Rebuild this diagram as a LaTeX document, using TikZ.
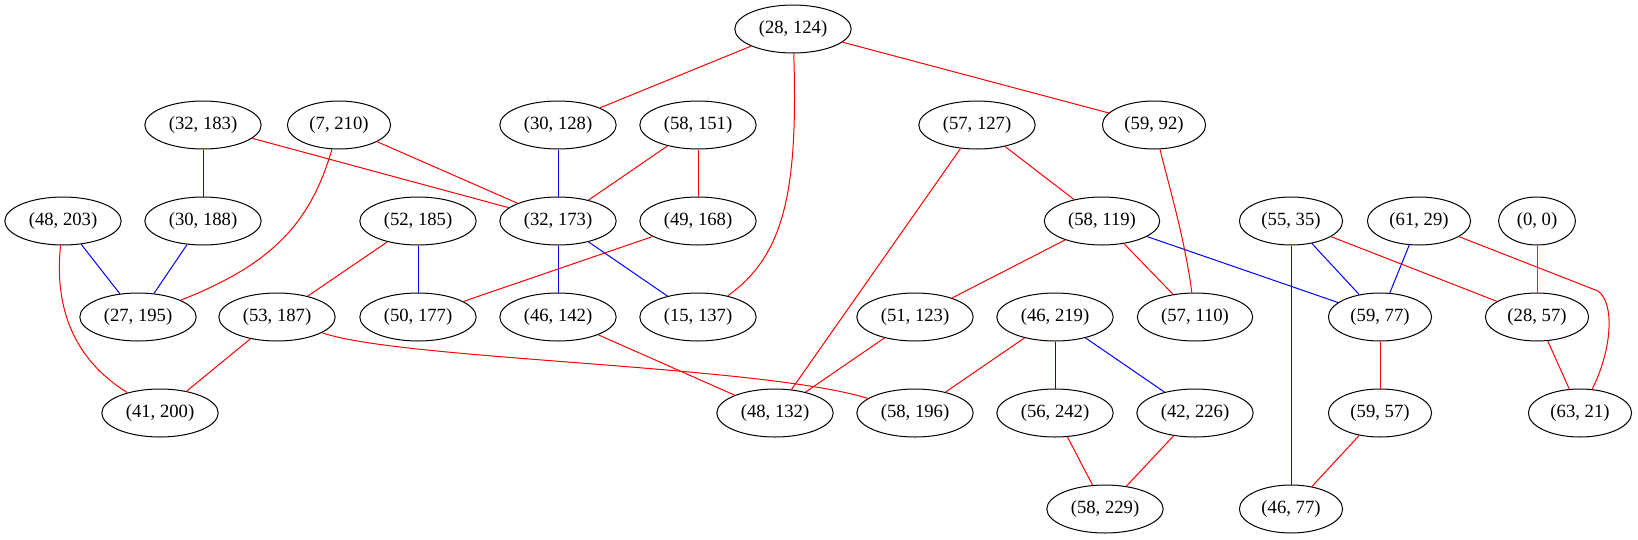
\documentclass[tikz,border=0pt]{standalone}
\usepackage{fontspec}
\setmainfont{Liberation Serif}
\usepackage{tikz}
\usetikzlibrary{shapes.geometric}

\begin{document}
\begin{tikzpicture}[x=0.75pt,y=-0.75pt,line width=0.75pt,
main node/.style={ellipse,draw,minimum height=36pt,inner xsep=5.2pt,inner ysep=0pt,font=\fontsize{14}{16}\selectfont},
red edge/.style={draw=red},blue edge/.style={draw=blue},purple edge/.style={draw={rgb,255:red,160;green,32;blue,240}}]
\useasboundingbox (0, 0) rectangle (1638, 539);
% row 1
\node[main node] (1) at (793, 29) {(28, 124)};
% row 2
\node[main node] (2) at (203, 125) {(32, 183)};
\node[main node] (3) at (339, 125) {(7, 210)};
\node[main node] (4) at (558, 125) {(30, 128)};
\node[main node] (5) at (698, 125) {(58, 151)};
\node[main node] (6) at (977, 125) {(57, 127)};
\node[main node] (7) at (1154, 125) {(59, 92)};
% row 3
\node[main node] (8) at (63, 221) {(48, 203)};
\node[main node] (9) at (203, 221) {(30, 188)};
\node[main node] (10) at (418, 221) {(52, 185)};
\node[main node] (11) at (558, 221) {(32, 173)};
\node[main node] (12) at (698, 221) {(49, 168)};
\node[main node] (13) at (1102, 221) {(58, 119)};
\node[main node] (14) at (1291, 221) {(55, 35)};
\node[main node] (15) at (1419, 221) {(61, 29)};
\node[main node] (16) at (1537, 221) {(0, 0)};
% row 4
\node[main node] (17) at (138, 317) {(27, 195)};
\node[main node] (18) at (277, 317) {(53, 187)};
\node[main node] (19) at (418, 317) {(50, 177)};
\node[main node] (20) at (558, 317) {(46, 142)};
\node[main node] (21) at (698, 317) {(15, 137)};
\node[main node] (22) at (915, 317) {(51, 123)};
\node[main node] (23) at (1055, 317) {(46, 219)};
\node[main node] (24) at (1195, 317) {(57, 110)};
\node[main node] (25) at (1380, 317) {(59, 77)};
\node[main node] (26) at (1537, 317) {(28, 57)};
% row 5
\node[main node] (27) at (160, 413) {(41, 200)};
\node[main node] (28) at (775, 413) {(48, 132)};
\node[main node] (29) at (915, 413) {(58, 196)};
\node[main node] (30) at (1055, 413) {(56, 242)};
\node[main node] (31) at (1195, 413) {(42, 226)};
\node[main node] (32) at (1380, 413) {(59, 57)};
\node[main node] (33) at (1580, 413) {(63, 21)};
% row 6
\node[main node] (34) at (1105, 509) {(58, 229)};
\node[main node] (35) at (1291, 509) {(46, 77)};
% edges
\draw[red edge] (1) -- (4);
\draw[red edge] (1) -- (7);
\draw[red edge] (1) .. controls (798, 190) and (785, 255) .. (21);
\draw[blue edge] (2) -- (9);
\draw[red edge] (2) -- (11);
\draw[red edge] (3) -- (11);
\draw[red edge] (3) .. controls (310, 225) and (270, 265) .. (17);
\draw[blue edge] (4) -- (11);
\draw[red edge] (5) -- (11);
\draw[red edge] (5) -- (12);
\draw[red edge] (6) -- (13);
\draw[red edge] (6) -- (28);
\draw[red edge] (7) .. controls (1170, 190) and (1185, 240) .. (24);
\draw[blue edge] (8) -- (17);
\draw[red edge] (8) .. controls (54, 310) and (75, 360) .. (27);
\draw[blue edge] (9) -- (17);
\draw[red edge] (10) -- (18);
\draw[blue edge] (10) -- (19);
\draw[blue edge] (11) -- (20);
\draw[blue edge] (11) -- (21);
\draw[red edge] (12) -- (19);
\draw[red edge] (13) -- (22);
\draw[red edge] (13) -- (24);
\draw[blue edge] (13) -- (25);
\draw[blue edge] (14) -- (25);
\draw[red edge] (14) -- (26);
\draw[blue edge] (14) -- (35);
\draw[blue edge] (15) -- (25);
\draw[red edge] (15) -- (1598, 291) .. controls (1615, 303) and (1612, 350) .. (33);
\draw[purple edge] (16) -- (26);
\draw[red edge] (18) -- (27);
\draw[red edge] (18) .. controls (400, 360) and (760, 365) .. (29);
\draw[red edge] (20) -- (28);
\draw[red edge] (22) -- (28);
\draw[red edge] (23) -- (29);
\draw[blue edge] (23) -- (30);
\draw[blue edge] (23) -- (31);
\draw[red edge] (25) -- (32);
\draw[red edge] (26) -- (33);
\draw[red edge] (30) -- (34);
\draw[red edge] (31) -- (34);
\draw[red edge] (32) -- (35);
\end{tikzpicture}
\end{document}
